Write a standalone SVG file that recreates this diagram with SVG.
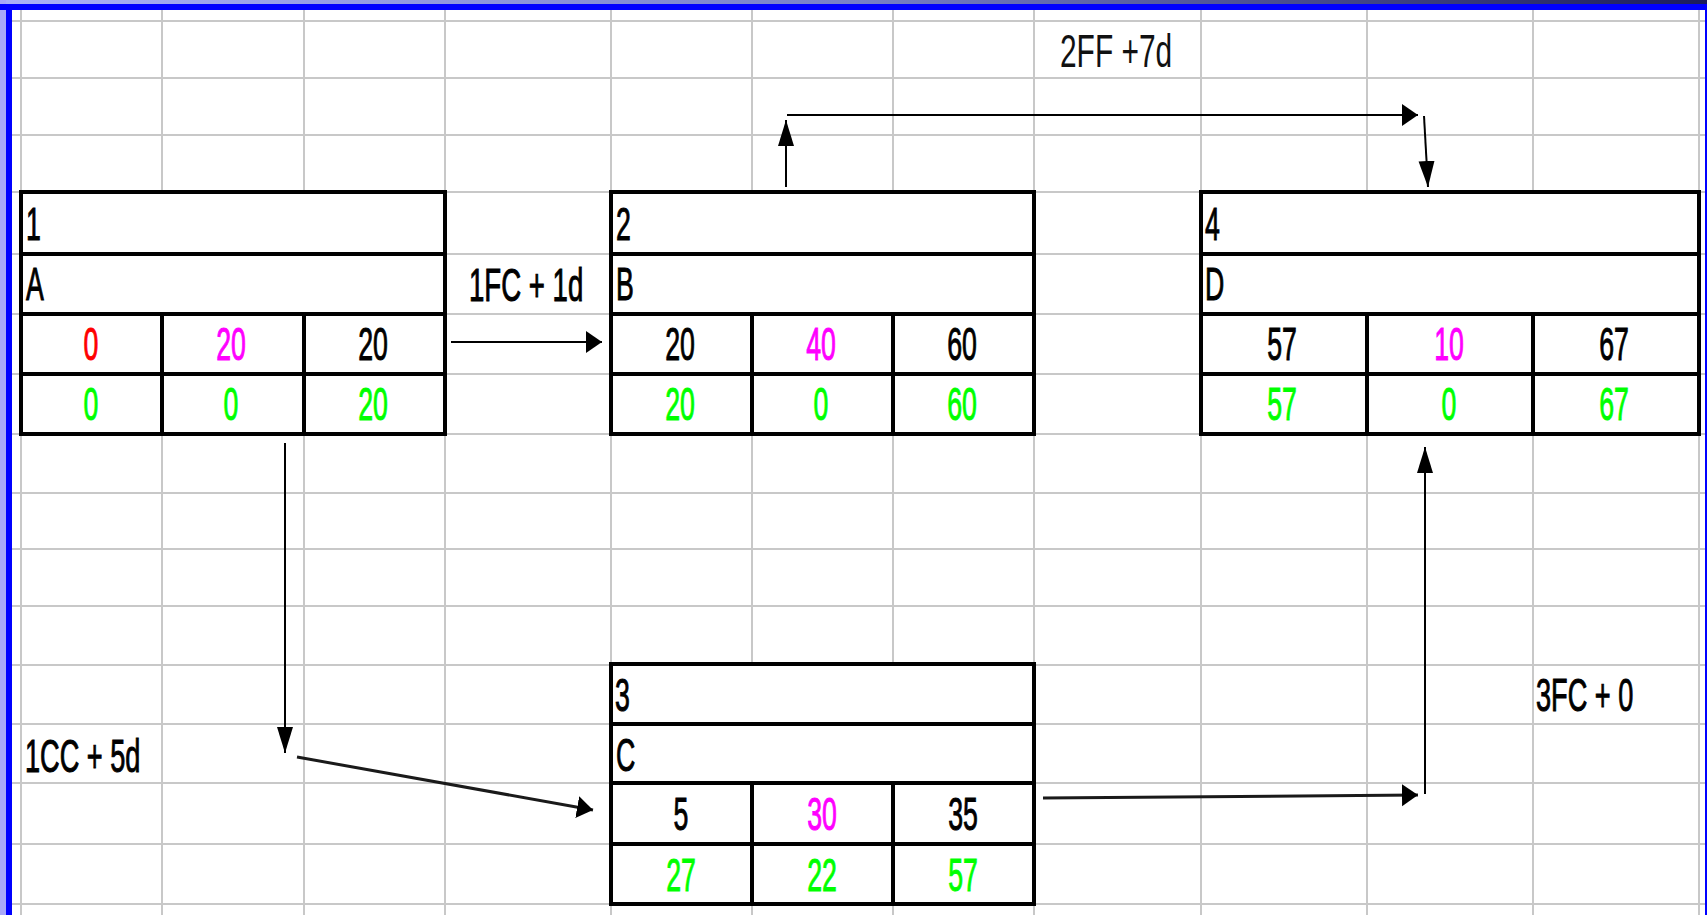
<svg xmlns="http://www.w3.org/2000/svg" width="1707" height="915" viewBox="0 0 1707 915">
<defs>
<linearGradient id="topg" x1="0" y1="0" x2="1" y2="0">
<stop offset="0" stop-color="#aab0f8"/>
<stop offset="0.5" stop-color="#7880c8"/>
<stop offset="1" stop-color="#1c1c5c"/>
</linearGradient>
<marker id="ah" markerUnits="userSpaceOnUse" markerWidth="17" markerHeight="23" refX="16" refY="11" orient="auto"><path d="M0,0 L16,11 L0,22 z" fill="#000"/></marker>
<marker id="av" markerUnits="userSpaceOnUse" markerWidth="27" markerHeight="17" refX="26" refY="8" orient="auto"><path d="M0,0 L26,8 L0,16 z" fill="#000"/></marker>
<style>
.g{stroke:#c8c8c8;stroke-width:2;fill:none}
.b{stroke:#000;stroke-width:4;fill:none}
.bg{fill:#fff}
.t{font-family:"Liberation Sans",Arial,sans-serif;font-size:46px;fill:#000;stroke:#000;stroke-width:1}
.m{text-anchor:middle}
.red{fill:#ff0000;stroke:#ff0000}
.mag{fill:#ff00ff;stroke:#ff00ff}
.grn{fill:#00ff00;stroke:#00ff00}
.c{stroke:#000;stroke-width:2;fill:none}
.c3{stroke:#1a1a1a;stroke-width:3;fill:none}
.thin{font-family:"Liberation Sans",Arial,sans-serif;font-size:46px;fill:#111;font-weight:300}
</style>
</defs>
<rect width="1707" height="915" fill="#fff"/>
<g id="grid">
<path class="g" d="M12,21H1705M12,78H1705M12,135H1705M12,192H1705M12,254H1705M12,314H1705M12,374H1705M12,434H1705M12,493H1705M12,549H1705M12,606H1705M12,665H1705M12,724H1705M12,783H1705M12,844H1705M12,904H1705"/>
<path class="g" d="M21,10V915M162,10V915M304,10V915M445,10V915M611,10V915M752,10V915M893,10V915M1034,10V915M1201,10V915M1367,10V915M1533,10V915M1699,10V915"/>
</g>
<g id="frame">
<rect x="0" y="0" width="1707" height="4" fill="url(#topg)"/>
<rect x="0" y="0" width="6" height="915" fill="#a8a8f8"/>
<rect x="0" y="4" width="1707" height="6" fill="#0000ff"/>
<rect x="6" y="4" width="6" height="911" fill="#0000ff"/>
<rect x="1705" y="4" width="2" height="911" fill="#0000ff"/>
</g>
<g id="node1">
<rect class="bg" x="21" y="192" width="424" height="242"/>
<path class="b" d="M21,192H445V434H21Z M21,254H445 M21,314H445 M21,374H445 M162,314V434 M304,314V434"/>
<text class="t" transform="translate(26,240) scale(0.58,1)">1</text>
<text class="t" transform="translate(26,300) scale(0.58,1)">A</text>
<text class="t m red" transform="translate(91,360) scale(0.58,1)">0</text>
<text class="t m mag" transform="translate(231,360) scale(0.58,1)">20</text>
<text class="t m" transform="translate(373,360) scale(0.58,1)">20</text>
<text class="t m grn" transform="translate(91,420) scale(0.58,1)">0</text>
<text class="t m grn" transform="translate(231,420) scale(0.58,1)">0</text>
<text class="t m grn" transform="translate(373,420) scale(0.58,1)">20</text>
</g>
<g id="node2">
<rect class="bg" x="611" y="192" width="423" height="242"/>
<path class="b" d="M611,192H1034V434H611Z M611,254H1034 M611,314H1034 M611,374H1034 M752,314V434 M893,314V434"/>
<text class="t" transform="translate(616,240) scale(0.58,1)">2</text>
<text class="t" transform="translate(616,300) scale(0.58,1)">B</text>
<text class="t m" transform="translate(680,360) scale(0.58,1)">20</text>
<text class="t m mag" transform="translate(821,360) scale(0.58,1)">40</text>
<text class="t m" transform="translate(962,360) scale(0.58,1)">60</text>
<text class="t m grn" transform="translate(680,420) scale(0.58,1)">20</text>
<text class="t m grn" transform="translate(821,420) scale(0.58,1)">0</text>
<text class="t m grn" transform="translate(962,420) scale(0.58,1)">60</text>
</g>
<g id="node4">
<rect class="bg" x="1201" y="192" width="498" height="242"/>
<path class="b" d="M1201,192H1699V434H1201Z M1201,254H1699 M1201,314H1699 M1201,374H1699 M1367,314V434 M1533,314V434"/>
<text class="t" transform="translate(1205,240) scale(0.58,1)">4</text>
<text class="t" transform="translate(1205,300) scale(0.58,1)">D</text>
<text class="t m" transform="translate(1282,360) scale(0.58,1)">57</text>
<text class="t m mag" transform="translate(1449,360) scale(0.58,1)">10</text>
<text class="t m" transform="translate(1614,360) scale(0.58,1)">67</text>
<text class="t m grn" transform="translate(1282,420) scale(0.58,1)">57</text>
<text class="t m grn" transform="translate(1449,420) scale(0.58,1)">0</text>
<text class="t m grn" transform="translate(1614,420) scale(0.58,1)">67</text>
</g>
<g id="node3">
<rect class="bg" x="611" y="664" width="423" height="240"/>
<path class="b" d="M611,664H1034V904H611Z M611,724H1034 M611,783H1034 M611,844H1034 M752,783V904 M893,783V904"/>
<text class="t" transform="translate(615,711) scale(0.58,1)">3</text>
<text class="t" transform="translate(616,771) scale(0.58,1)">C</text>
<text class="t m" transform="translate(681,830) scale(0.58,1)">5</text>
<text class="t m mag" transform="translate(822,830) scale(0.58,1)">30</text>
<text class="t m" transform="translate(963,830) scale(0.58,1)">35</text>
<text class="t m grn" transform="translate(681,891) scale(0.58,1)">27</text>
<text class="t m grn" transform="translate(822,891) scale(0.58,1)">22</text>
<text class="t m grn" transform="translate(963,891) scale(0.58,1)">57</text>
</g>
<g id="connectors">
<path class="c" d="M451,342H602" marker-end="url(#ah)"/>
<path class="c" d="M786,187V120" marker-end="url(#av)"/>
<path class="c" d="M787,115H1418" marker-end="url(#ah)"/>
<path class="c" d="M1424,116L1428,187" marker-end="url(#av)"/>
<path class="c" d="M285,443V753" marker-end="url(#av)"/>
<path class="c3" d="M297,757L593,810" marker-end="url(#ah)"/>
<path class="c3" d="M1043,798L1418,795" marker-end="url(#ah)"/>
<path class="c" d="M1425,794V447" marker-end="url(#av)"/>
</g>
<g id="labels">
<text class="t" transform="translate(469,301) scale(0.6,1)">1FC + 1d</text>
<text class="thin" transform="translate(1060,67) scale(0.65,1)">2FF +7d</text>
<text class="t" transform="translate(25,772) scale(0.59,1)">1CC + 5d</text>
<text class="t" transform="translate(1536,711) scale(0.59,1)">3FC + 0</text>
</g>
</svg>
